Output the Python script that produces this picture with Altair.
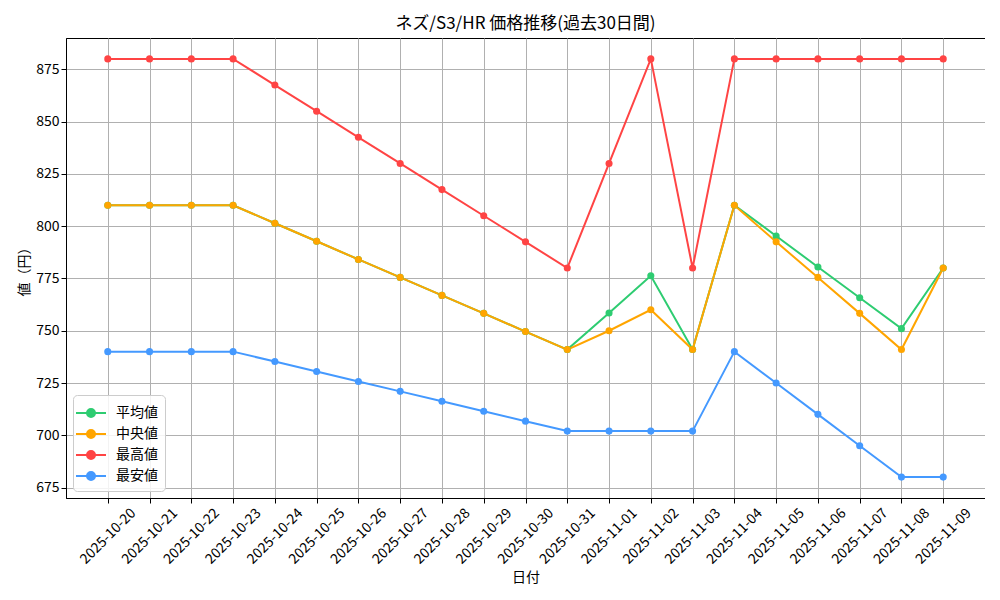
import altair as alt
import pandas as pd

dates = ["2025-10-20", "2025-10-21", "2025-10-22", "2025-10-23", "2025-10-24",
         "2025-10-25", "2025-10-26", "2025-10-27", "2025-10-28", "2025-10-29",
         "2025-10-30", "2025-10-31", "2025-11-01", "2025-11-02", "2025-11-03",
         "2025-11-04", "2025-11-05", "2025-11-06", "2025-11-07", "2025-11-08",
         "2025-11-09"]

avg_vals = [810, 810, 810, 810, 801.4, 792.8, 784.1, 775.5, 766.9, 758.3, 749.6,
            741, 758.5, 776.3, 741, 810, 795.3, 780.5, 765.8, 751, 780]
med_vals = [810, 810, 810, 810, 801.4, 792.8, 784.1, 775.5, 766.9, 758.3, 749.6,
            741, 750, 760, 741, 810, 792.5, 775.5, 758.3, 741, 780]
max_vals = [880, 880, 880, 880, 867.5, 855, 842.5, 830, 817.5, 805, 792.5,
            780, 830, 880, 780, 880, 880, 880, 880, 880, 880]
min_vals = [740, 740, 740, 740, 735.25, 730.5, 725.75, 721, 716.25, 711.5, 706.75,
            702, 702, 702, 702, 740, 725, 710, 695, 680, 680]

series = ["平均値", "中央値", "最高値", "最安値"]
colors = ["#2ecc71", "#ffa500", "#ff4444", "#4499ff"]
y_ticks = [675, 700, 725, 750, 775, 800, 825, 850, 875]

rows = []
for name, vals in zip(series, [avg_vals, med_vals, max_vals, min_vals]):
    for d, v in zip(dates, vals):
        rows.append({"日付": d, "値": v, "系列": name})
df = pd.DataFrame(rows)

FONT = "Noto Sans CJK JP"
sym_path = "M-1.5,0L1.5,0M0.4,0A0.4,0.4,0,1,1,-0.4,0A0.4,0.4,0,1,1,0.4,0Z"

base = alt.Chart(df).encode(
    x=alt.X("日付:O", sort=dates, scale=alt.Scale(type="point", padding=1),
            axis=alt.Axis(title="日付", labelAngle=-45, labelAlign="center",
                          labelBaseline="middle", labelPadding=33, grid=True,
                          titlePadding=4)),
    y=alt.Y("値:Q", scale=alt.Scale(domain=[670, 890], nice=False, zero=False),
            axis=alt.Axis(title="値（円）", values=y_ticks, grid=True)),
    color=alt.Color("系列:N", sort=series,
                    scale=alt.Scale(domain=series, range=colors),
                    legend=alt.Legend(title=None, orient="bottom-left", offset=7,
                                      symbolType=sym_path, symbolSize=400,
                                      symbolStrokeWidth=2, labelOffset=14,
                                      rowPadding=2, padding=7,
                                      fillColor="rgba(255,255,255,0.85)",
                                      strokeColor="#cccccc", cornerRadius=4,
                                      labelFont=FONT, labelFontSize=14,
                                      labelColor="black")),
    order=alt.value(0),
)

lines = base.mark_line(strokeWidth=2)
points = base.mark_point(filled=True, size=50, opacity=1)

chart = alt.layer(lines, points).properties(
    width=919, height=460,
    autosize=alt.AutoSizeParams(type="none"),
    padding={"left": 58, "top": 30, "right": 0, "bottom": 92},
    title=alt.TitleParams("ネズ/S3/HR 価格推移(過去30日間)", font=FONT, fontSize=17,
                          fontWeight="normal", anchor="middle", color="black",
                          offset=5),
).configure_view(
    stroke="black", strokeWidth=1
).configure_axis(
    labelFont=FONT, labelFontSize=14, labelColor="black",
    titleFont=FONT, titleFontSize=14, titleColor="black", titleFontWeight="normal",
    domainColor="black", tickColor="black", tickSize=5,
    gridColor="#b0b0b0", gridWidth=1,
)

chart.save("out.html", embed_options={"renderer": "svg", "actions": False})
